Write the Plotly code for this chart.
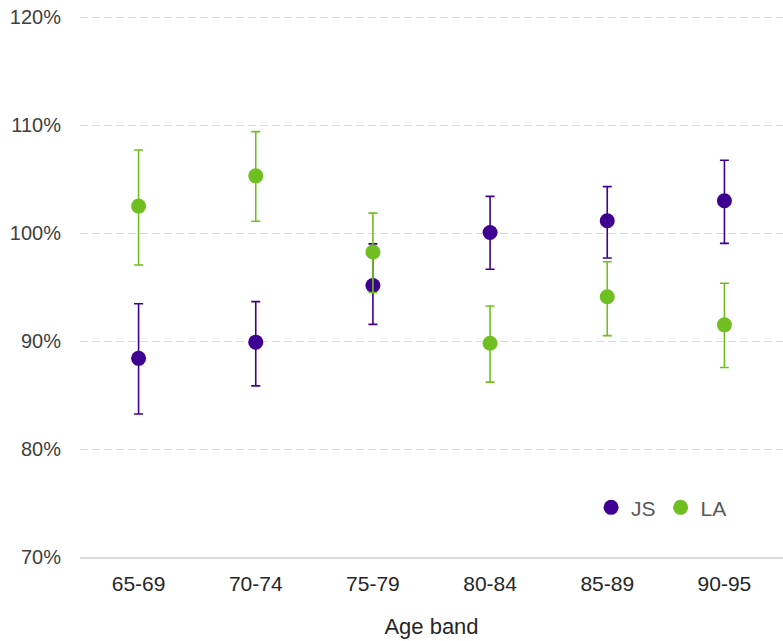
import plotly.graph_objects as go

age_bands = ["65-69", "70-74", "75-79", "80-84", "85-89", "90-95"]

js_value = [88.4, 89.9, 95.15, 100.05, 101.15, 103.0]
js_lower = [83.25, 85.85, 91.55, 96.65, 97.7, 99.05]
js_upper = [93.45, 93.65, 99.0, 103.4, 104.3, 106.75]

la_value = [102.5, 105.3, 98.25, 89.8, 94.1, 91.5]
la_lower = [97.05, 101.1, 94.5, 86.2, 90.5, 87.55]
la_upper = [107.7, 109.4, 101.85, 93.25, 97.35, 95.35]

PURPLE = "#3f0091"
GREEN = "#70bf20"
FONT = "Liberation Sans, Arial, sans-serif"


def err(vals, lo, hi, color):
    return dict(
        type="data",
        symmetric=False,
        array=[h - v for v, h in zip(vals, hi)],
        arrayminus=[v - l for v, l in zip(vals, lo)],
        color=color,
        thickness=1.6,
        width=4.5,
    )


fig = go.Figure()
fig.add_trace(go.Scatter(
    x=age_bands, y=js_value, name="JS", mode="markers",
    marker=dict(color=PURPLE, size=15),
    error_y=err(js_value, js_lower, js_upper, PURPLE),
))
fig.add_trace(go.Scatter(
    x=age_bands, y=la_value, name="LA", mode="markers",
    marker=dict(color=GREEN, size=15),
    error_y=err(la_value, la_lower, la_upper, GREEN),
))

fig.update_layout(
    width=783, height=641,
    margin=dict(l=80, r=0, t=15, b=84),
    paper_bgcolor="white", plot_bgcolor="white",
    font=dict(family=FONT, size=20, color="#404040"),
    showlegend=True,
    legend=dict(
        orientation="h", x=0.727, y=0.091, xanchor="left", yanchor="middle",
        font=dict(size=21, color="#595959"), itemwidth=30,
        bgcolor="rgba(0,0,0,0)",
    ),
    xaxis=dict(
        type="category", range=[-0.5, 5.5], automargin=False,
        showgrid=False, showline=True, linecolor="#d9d9d9", linewidth=1.5,
        tickfont=dict(size=21, color="#262626"),
        ticks="outside", ticklen=0, ticklabelstandoff=7,
        title=dict(text="Age band", font=dict(size=22, color="#262626"), standoff=25),
    ),
    yaxis=dict(
        range=[70, 120.2], dtick=10, ticksuffix="%", automargin=False,
        showgrid=True, gridcolor="#d9d9d9", griddash="8px,4px", gridwidth=1,
        zeroline=False, showline=False,
        tickfont=dict(size=20, color="#404040"),
        ticks="outside", ticklen=0, ticklabelstandoff=14,
        ticklabeloverflow="allow",
    ),
)

fig.write_html(
    "out.html",
    config={"displayModeBar": False},
    post_script="document.body.style.margin='0';document.body.style.overflow='hidden';",
)
